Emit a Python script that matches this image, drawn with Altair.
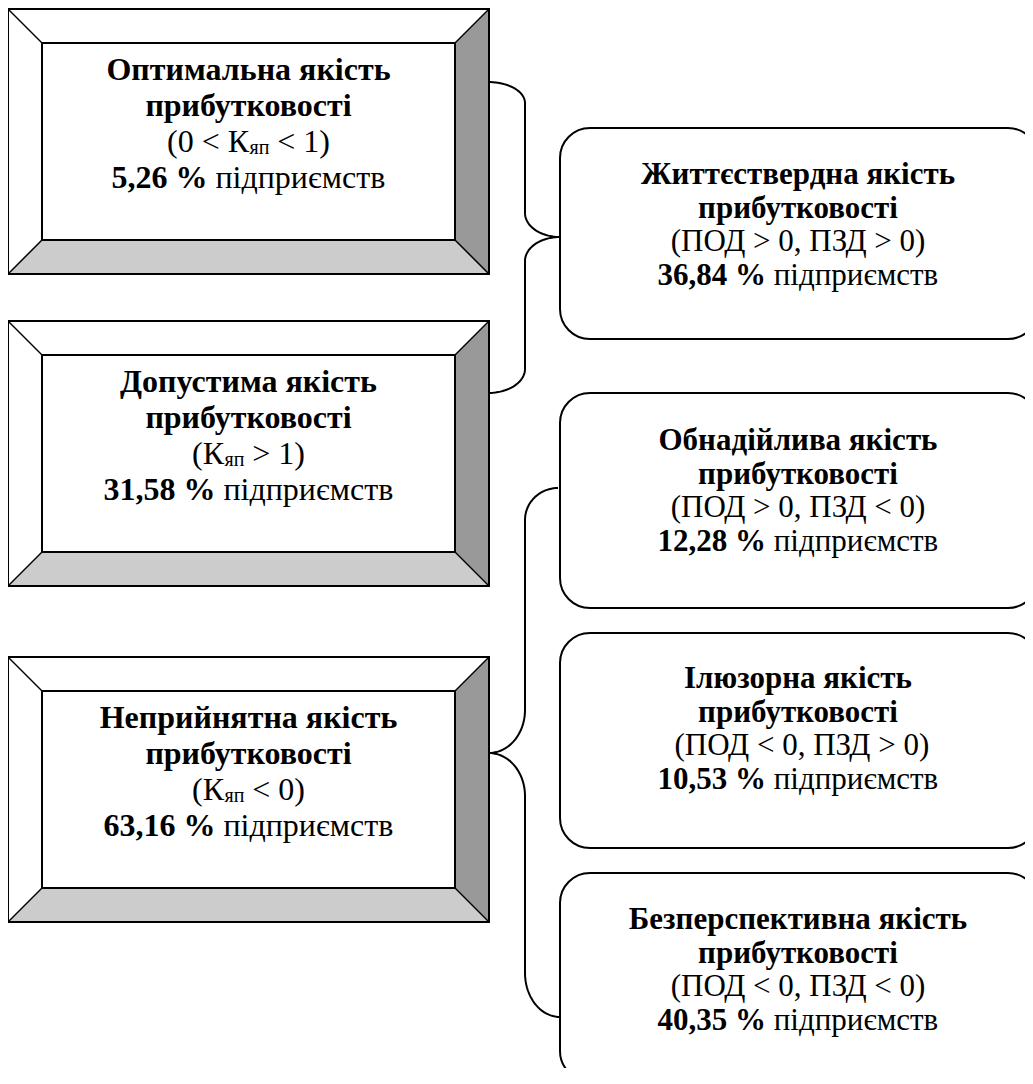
import altair as alt
import pandas as pd
import numpy as np

# ---------------- data ----------------
left_titles = ["Оптимальна якість", "Допустима якість", "Неприйнятна якість"]
left_cond_pre = ["(0 < К", "(К", "(К"]
left_cond_sub = ["яп", "яп", "яп"]
left_cond_post = ["< 1)", "> 1)", "< 0)"]
left_shares = [5.26, 31.58, 63.16]

right_titles = ["Життєствердна якість", "Обнадійлива якість",
                "Ілюзорна якість", "Безперспективна якість"]
right_conds = ["(ПОД > 0, ПЗД > 0)", "(ПОД > 0, ПЗД < 0)",
               "(ПОД < 0, ПЗД > 0)", "(ПОД < 0, ПЗД < 0)"]
right_cond_indent = [0, 0, 1, 0]   # one leading space in the original
right_shares = [36.84, 12.28, 10.53, 40.35]

second_line = "прибутковості"
unit_word = "підприємств"

# ---------------- layout (page pixel coordinates) ----------------
W, H = 1017, 1060
X0, Y0 = 8, 8
FONT = "Liberation Serif"

left_x0, left_x1, bevel = 8, 489, 34
left_tops = [9, 321, 657]
left_h = 265
left_base1 = [80, 392, 728]
left_fs, left_lh = 32, 36

right_x0, right_x1 = 560, 1038
right_tops = [128, 393, 633, 873]
right_bots = [339, 608, 848, 1081]
right_base1 = [184, 450, 688, 929]
right_fs, right_lh = 31, 33.5

# approximate advance widths (1/1000 em), Times metrics
REG = {'(': 333, ')': 333, ' ': 250, '<': 564, '>': 564, ',': 250,
       '%': 833, 'К': 667, 'я': 479, 'п': 535, 'і': 278, 'д': 509, 'р': 500,
       'и': 535, 'є': 438, 'м': 633, 'с': 444, 'т': 437, 'в': 472}
BOLD = {',': 250, ' ': 250, '%': 1000}


def tw(s, size, bold=False):
    tab = BOLD if bold else REG
    tot = 0
    for ch in s:
        tot += 500 if ch.isdigit() else tab.get(ch, 500)
    return tot * size / 1000.0


def fmt_share(v):
    return f"{v:.2f}".replace(".", ",") + " %"


# ---------------- build tables ----------------
xs = alt.Scale(domain=[X0, X0 + W], nice=False, zero=False)
ys = alt.Scale(domain=[Y0, Y0 + H], nice=False, zero=False, reverse=True)

outer_rows, inner_rows, diag_rows, bev_rows = [], [], [], []
sid = 0
for i, t in enumerate(left_tops):
    x0, x1, y0, y1, b = left_x0, left_x1, t, t + left_h, bevel
    outer_rows.append(dict(x=x0, x2=x1, y=y0, y2=y1))
    inner_rows.append(dict(x=x0 + b, x2=x1 - b, y=y0 + b, y2=y1 - b))
    for (ax, ay, bx, by) in [(x0, y0, x0 + b, y0 + b), (x1, y0, x1 - b, y0 + b),
                             (x0, y1, x0 + b, y1 - b), (x1, y1, x1 - b, y1 - b)]:
        diag_rows.append(dict(x=ax, y=ay, x2=bx, y2=by))
    for (px, py, py2) in [(x0, y1, y1), (x0 + b, y1, y1 - b),
                          (x1 - b, y1, y1 - b), (x1, y1, y1)]:
        bev_rows.append(dict(s=sid, x=px, y=py, y2=py2, c="#cccccc"))
    sid += 1
    for (px, py, py2) in [(x1 - b, y0 + b, y1 - b), (x1, y0, y1)]:
        bev_rows.append(dict(s=sid, x=px, y=py, y2=py2, c="#999999"))
    sid += 1

outer_df = pd.DataFrame(outer_rows)
inner_df = pd.DataFrame(inner_rows)
diag_df = pd.DataFrame(diag_rows)
bev_df = pd.DataFrame(bev_rows)

rbox_df = pd.DataFrame([dict(x=right_x0, x2=right_x1, y=t, y2=b)
                        for t, b in zip(right_tops, right_bots)])


def arc(cx, cy, rx, ry, a0, a1, n=24):
    th = np.radians(np.linspace(a0, a1, n))
    return list(zip(cx + rx * np.cos(th), cy + ry * np.sin(th)))


brace1 = (arc(488, 103, 37, 21, -90, 0) + arc(560, 213, 35, 24, 180, 90)
          + arc(560, 261, 35, 24, -90, -180) + arc(488, 369, 37, 24, 0, 90))
brace2 = (arc(558, 520, 33, 32, -90, -180) + arc(489, 710, 36, 43, 0, 90)
          + arc(489, 796, 36, 43, -90, 0) + arc(560, 973, 35, 44, 180, 90))
brace_rows = []
for bid, pts in enumerate([brace1, brace2]):
    for k, (px, py) in enumerate(pts):
        brace_rows.append(dict(b=bid, k=k, x=px, y=py))
brace_df = pd.DataFrame(brace_rows)

# texts
center_rows = []   # centered single-font lines
piece_rows = []    # left-aligned pieces
lcx = (left_x0 + left_x1) / 2
rcx = (right_x0 + 1036) / 2

for i in range(3):
    yb = left_base1[i]
    fs = left_fs
    sp = tw(" ", fs)
    center_rows.append(dict(x=lcx, y=yb, t=left_titles[i], fs=fs, w="bold"))
    center_rows.append(dict(x=lcx, y=yb + left_lh, t=second_line, fs=fs, w="bold"))
    sub_fs = 20
    wa = tw(left_cond_pre[i], fs)
    wb = tw(left_cond_sub[i], sub_fs)
    wc = sp + tw(left_cond_post[i], fs)
    st = lcx - (wa + wb + wc) / 2
    y3 = yb + 2 * left_lh
    piece_rows.append(dict(x=st, y=y3, t=left_cond_pre[i], fs=fs, w="normal"))
    piece_rows.append(dict(x=st + wa + 0.5, y=y3 + 2, t=left_cond_sub[i], fs=sub_fs, w="normal"))
    piece_rows.append(dict(x=st + wa + wb + sp, y=y3, t=left_cond_post[i], fs=fs, w="normal"))
    s = fmt_share(left_shares[i])
    w1 = tw(s, fs, True)
    w2 = sp + tw(unit_word, fs)
    st = lcx - (w1 + w2) / 2
    y4 = yb + 3 * left_lh
    piece_rows.append(dict(x=st, y=y4, t=s, fs=fs, w="bold"))
    piece_rows.append(dict(x=st + w1 + sp, y=y4, t=unit_word, fs=fs, w="normal"))

for i in range(4):
    yb = right_base1[i]
    fs = right_fs
    sp = tw(" ", fs)
    center_rows.append(dict(x=rcx, y=yb, t=right_titles[i], fs=fs, w="bold"))
    center_rows.append(dict(x=rcx, y=yb + right_lh, t=second_line, fs=fs, w="bold"))
    center_rows.append(dict(x=rcx + right_cond_indent[i] * sp / 2, y=yb + 2 * right_lh,
                            t=right_conds[i], fs=fs, w="normal"))
    s = fmt_share(right_shares[i])
    w1 = tw(s, fs, True)
    w2 = sp + tw(unit_word, fs)
    st = rcx - (w1 + w2) / 2
    y4 = yb + 3 * right_lh
    piece_rows.append(dict(x=st, y=y4, t=s, fs=fs, w="bold"))
    piece_rows.append(dict(x=st + w1 + sp, y=y4, t=unit_word, fs=fs, w="normal"))

center_df = pd.DataFrame(center_rows)
piece_df = pd.DataFrame(piece_rows)

X = lambda f: alt.X(f"{f}:Q", scale=xs, axis=None)
Y = lambda f: alt.Y(f"{f}:Q", scale=ys, axis=None)

SW = 2

outer_fill = alt.Chart(outer_df).mark_rect(fill="white", strokeWidth=0).encode(
    x=X("x"), x2="x2", y=Y("y"), y2="y2")
bevels = alt.Chart(bev_df).mark_area(opacity=1, strokeWidth=0).encode(
    x=X("x"), y=Y("y"), y2="y2", detail="s:N",
    fill=alt.Fill("c:N", scale=None, legend=None))
inner_box = alt.Chart(inner_df).mark_rect(fill="white", stroke="black", strokeWidth=SW).encode(
    x=X("x"), x2="x2", y=Y("y"), y2="y2")
outer_line = alt.Chart(outer_df).mark_rect(fillOpacity=0, stroke="black", strokeWidth=SW).encode(
    x=X("x"), x2="x2", y=Y("y"), y2="y2")
diags = alt.Chart(diag_df).mark_rule(color="black", strokeWidth=1.5).encode(
    x=X("x"), y=Y("y"), x2="x2", y2="y2")

rboxes = alt.Chart(rbox_df).mark_rect(fill="white", stroke="black", strokeWidth=SW,
                                      cornerRadius=30, clip=True).encode(
    x=X("x"), x2="x2", y=Y("y"), y2="y2")

braces = alt.Chart(brace_df).mark_line(color="black", strokeWidth=SW).encode(
    x=X("x"), y=Y("y"), detail="b:N", order="k:Q")


def txt(df, weight, align):
    return alt.Chart(df).transform_filter(f"datum.w == '{weight}'").mark_text(
        font=FONT, fontWeight=weight, align=align, baseline="alphabetic",
        color="black").encode(
        x=X("x"), y=Y("y"), text="t:N", size=alt.Size("fs:Q", scale=None))


chart = alt.layer(
    outer_fill, bevels, inner_box, outer_line, diags,
    rboxes, braces,
    txt(center_df, "bold", "center"), txt(center_df, "normal", "center"),
    txt(piece_df, "bold", "left"), txt(piece_df, "normal", "left"),
).properties(
    width=W, height=H, padding=0, autosize=alt.AutoSizeParams(type="none"),
    background="white",
).configure_view(stroke=None)

chart.save("out.html", embed_options={"renderer": "svg", "actions": False})
